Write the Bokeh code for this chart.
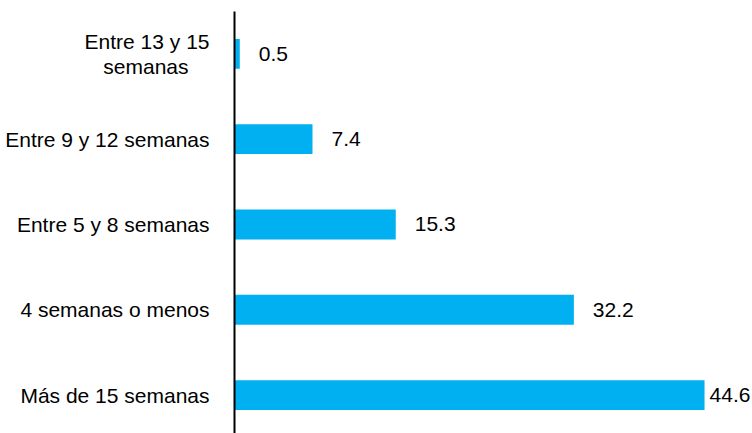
from bokeh.plotting import figure
from bokeh.models import ColumnDataSource, LinearAxis, FixedTicker, Range1d, LabelSet
from bokeh.core.properties import value
from bokeh.embed import file_html
from bokeh.resources import INLINE

categories = ["Más de 15 semanas", "4 semanas o menos", "Entre 5 y 8 semanas",
              "Entre 9 y 12 semanas", "Entre 13 y 15\nsemanas\u2002\u2002"]
values = [44.6, 32.2, 15.3, 7.4, 0.5]
value_labels = ["44.6", "32.2", "15.3", "7.4", "0.5"]

pos = list(range(len(categories)))
offsets = [5 if v == max(values) else 19 for v in values]
src = ColumnDataSource(dict(y=pos, v=values, lab=value_labels, off=offsets))

FONT = "Liberation Sans"

p = figure(width=752, height=433, output_backend="svg", toolbar_location=None,
           x_range=Range1d(0, 49.15), y_range=Range1d(-0.45, 4.496),
           x_axis_type=None, y_axis_type=None,
           min_border_left=234, min_border_right=0, min_border_top=11, min_border_bottom=0)
p.outline_line_color = None
p.xgrid.visible = False
p.ygrid.visible = False
p.background_fill_color = "white"
p.border_fill_color = "white"

p.hbar(y="y", right="v", left=0, height=0.35, source=src,
       fill_color="#00B0F0", line_color=None)

yaxis = LinearAxis(ticker=FixedTicker(ticks=pos),
                   major_label_overrides={i: c for i, c in zip(pos, categories)})
yaxis.axis_line_color = "black"
yaxis.axis_line_width = 2
yaxis.major_tick_line_color = None
yaxis.minor_tick_line_color = None
yaxis.major_label_standoff = 19
yaxis.major_label_text_font = FONT
yaxis.major_label_text_font_size = "21px"
yaxis.major_label_text_color = "black"
yaxis.major_label_text_line_height = 1.1
p.add_layout(yaxis, "left")

labels = LabelSet(x="v", y="y", text="lab", x_offset="off", source=src,
                  text_font=value(FONT), text_font_size=value("21px"), text_color="black",
                  text_baseline="middle", text_align="left")
p.add_layout(labels)

open("out.html", "w").write(file_html(p, INLINE))
